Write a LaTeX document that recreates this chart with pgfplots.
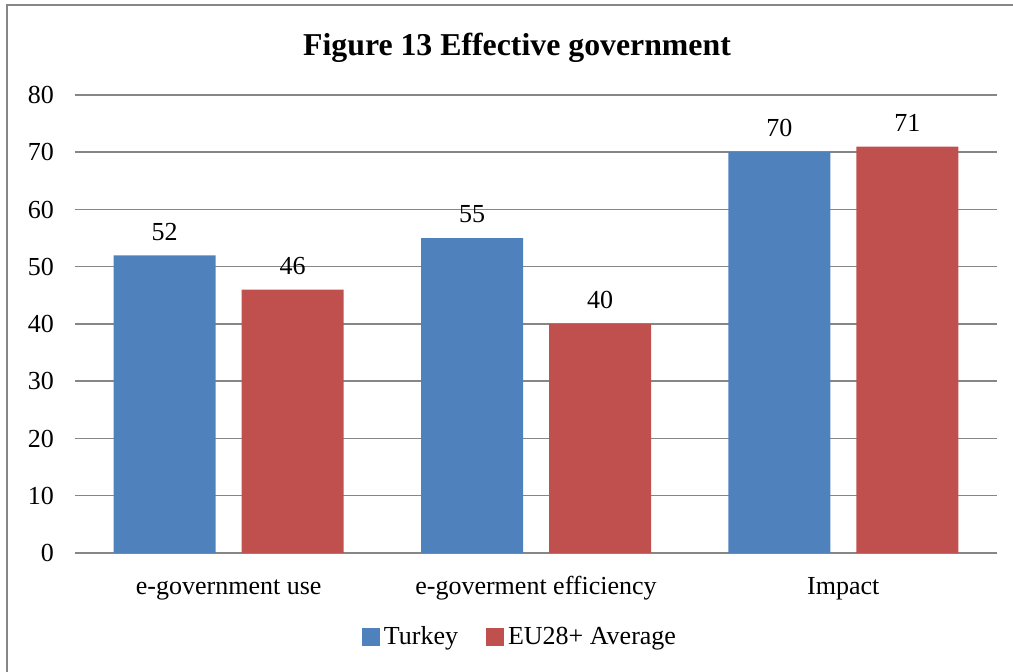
\documentclass[border=0pt]{standalone}
\usepackage{pgfplots}
\pgfplotsset{compat=1.18}
\usepackage{fontspec}
\setmainfont{Liberation Serif}
\definecolor{tblue}{HTML}{4F81BD}
\definecolor{tred}{HTML}{C0504D}
\definecolor{gridgray}{HTML}{868686}
\begin{document}
\begin{tikzpicture}
\useasboundingbox (0,0) rectangle (506.5bp,336bp);
\draw[gridgray, line width=1bp] (3.5bp,-2bp) -- (3.5bp,333.5bp) -- (510bp,333.5bp);
\node[font=\fontsize{15.9bp}{18bp}\selectfont\bfseries] at (258.5bp,312bp) {Figure 13 Effective government};
\begin{axis}[
  at={(37.5bp,59.5bp)}, anchor=south west,
  scale only axis, width=461bp, height=229bp,
  ybar=13bp, bar width=51bp,
  xmin=-0.5, xmax=2.5, ymin=0, ymax=80,
  xtick=data, xticklabels={e-government use, e-goverment efficiency, Impact},
  ytick={0,10,...,80},
  ymajorgrids, grid style={gridgray, line width=0.75bp},
  axis line style={draw=none},
  major tick length=0pt,
  /pgf/number format/assume math mode=true,
  tick label style={font=\fontsize{13bp}{15bp}\selectfont},
  yticklabel style={xshift=-7bp},
  xticklabel style={text height=9.5bp, text depth=3bp, yshift=-7.5bp},
  nodes near coords,
  every node near coord/.append style={font=\fontsize{13bp}{15bp}\selectfont, yshift=4bp, black},
  legend style={at={(0.4837,-0.1834)}, anchor=center, draw=none, legend columns=2,
    font=\fontsize{13bp}{15bp}\selectfont, /tikz/every even column/.append style={column sep=12bp}},
  legend image code/.code={\fill[#1] (0bp,-4.5bp) rectangle (9bp,4.5bp);},
]
\addplot[fill=tblue, draw=none] coordinates {(0,52) (1,55) (2,70)};
\addplot[fill=tred, draw=none] coordinates {(0,46) (1,40) (2,71)};
\legend{Turkey, EU28+ Average}
\end{axis}
\end{tikzpicture}
\end{document}
